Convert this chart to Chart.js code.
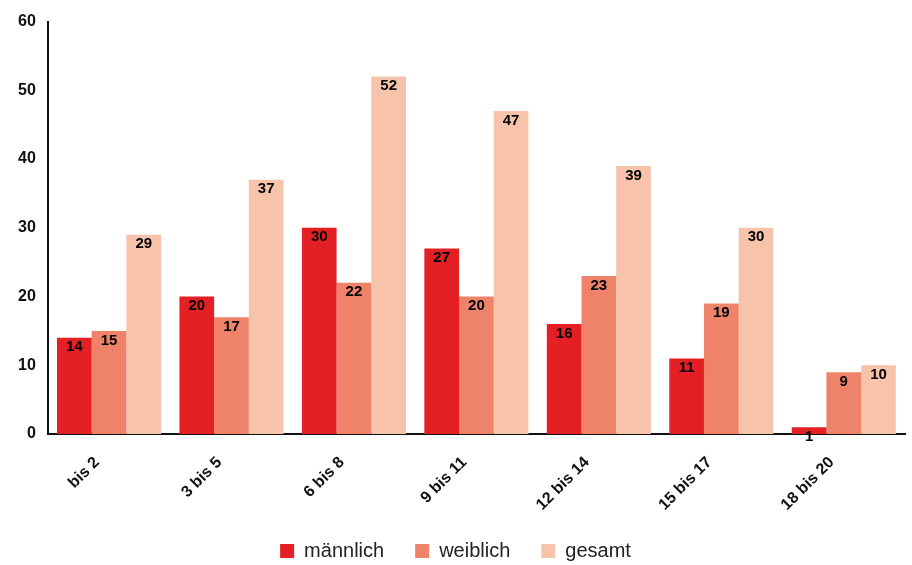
<!DOCTYPE html>
<html>
<head>
<meta charset="utf-8">
<script src="https://cdn.jsdelivr.net/npm/chart.js@4"></script>
<style>
  html, body { margin: 0; padding: 0; background: #fff; }
  #wrap { width: 912px; height: 565px; }
</style>
</head>
<body>
<div id="wrap"><canvas id="chart"></canvas></div>
<script>
// Altersgruppen
const categories = ['bis 2', '3 bis 5', '6 bis 8', '9 bis 11', '12 bis 14', '15 bis 17', '18 bis 20'];
const maennlich = [14, 20, 30, 27, 16, 11, 1];
const weiblich = [15, 17, 22, 20, 23, 19, 9];
const gesamt = [29, 37, 52, 47, 39, 30, 10];
const yTicks = [0, 10, 20, 30, 40, 50, 60];

const FONT = '"Liberation Sans", Arial, Helvetica, sans-serif';

// Werte oben in die Balken schreiben
const barValues = {
    id: 'barValues',
    afterDatasetsDraw(chart) {
        const ctx = chart.ctx;
        ctx.save();
        ctx.font = 'bold 15px ' + FONT;
        ctx.fillStyle = '#000';
        ctx.textAlign = 'center';
        ctx.textBaseline = 'top';
        chart.data.datasets.forEach((ds, i) => {
            const meta = chart.getDatasetMeta(i);
            meta.data.forEach((bar, j) => {
                ctx.fillText(String(ds.data[j]), bar.x, bar.y + 2);
            });
        });
        ctx.restore();
    }
};

const chart = new Chart(document.getElementById('chart'), {
    type: 'bar',
    data: {
        labels: categories,
        datasets: [
            { label: 'männlich', data: maennlich, backgroundColor: '#e42024' },
            { label: 'weiblich', data: weiblich, backgroundColor: '#ee836a' },
            { label: 'gesamt', data: gesamt, backgroundColor: '#f7c3aa' }
        ]
    },
    options: {
        responsive: true,
        maintainAspectRatio: false,
        animation: false,
        layout: { padding: { top: 12, right: 7, left: 6, bottom: -6 } },
        datasets: {
            bar: { categoryPercentage: 0.85, barPercentage: 1.0 }
        },
        scales: {
            x: {
                grid: { display: false, drawTicks: false },
                border: { color: '#111', width: 2 },
                afterFit(axis) {
                    axis.height = 76;
                },
                ticks: {
                    color: '#111',
                    font: { family: FONT, size: 16, weight: 'bold' },
                    minRotation: 45,
                    maxRotation: 45,
                    labelOffset: -12,
                    padding: 19
                }
            },
            y: {
                min: 0,
                max: 60,
                afterBuildTicks(axis) {
                    axis.ticks = yTicks.map(v => ({ value: v }));
                },
                grid: { display: false, drawTicks: false },
                border: { color: '#111', width: 2 },
                ticks: {
                    color: '#111',
                    font: { family: FONT, size: 16, weight: 'bold' },
                    padding: 12
                }
            }
        },
        plugins: {
            legend: {
                position: 'bottom',
                labels: {
                    boxWidth: 14,
                    boxHeight: 14,
                    padding: 31,
                    color: '#222',
                    font: { family: FONT, size: 20 }
                }
            },
            tooltip: { enabled: false }
        }
    },
    plugins: [barValues]
});
</script>
</body>
</html>
